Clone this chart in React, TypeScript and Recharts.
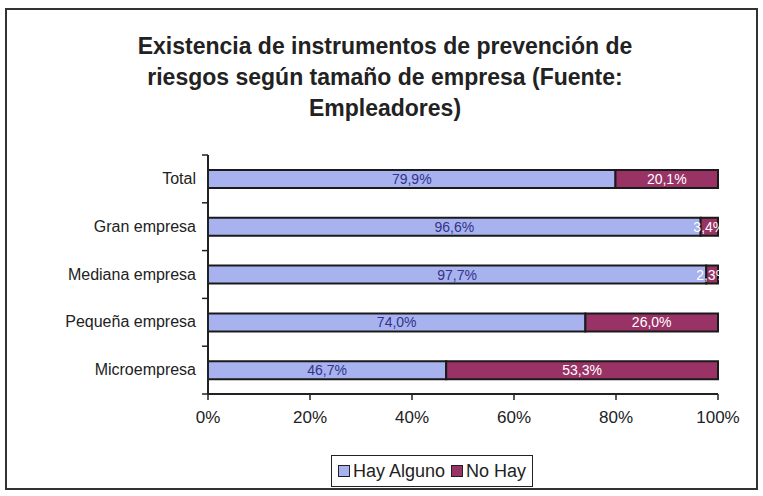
import { BarChart, Bar, XAxis, YAxis, LabelList } from "recharts";

const categories = ["Total", "Gran empresa", "Mediana empresa", "Pequeña empresa", "Microempresa"];
const hayAlguno = [79.9, 96.6, 97.7, 74.0, 46.7];
const noHay = [20.1, 3.4, 2.3, 26.0, 53.3];
const xTicks = [0, 20, 40, 60, 80, 100];

const data = categories.map((name, i) => ({ name, hay: hayAlguno[i], no: noHay[i] }));

const fmt = (v: number) => v.toFixed(1).replace(".", ",") + "%";
const font = "'Liberation Sans', Arial, sans-serif";

const PLOT_TOP = 155;
const PLOT_BOTTOM = 394;
const BAND = (PLOT_BOTTOM - PLOT_TOP) / categories.length;

const CategoryTick = (props: any) => {
	const { x, y, payload, index } = props;
	const top = y - BAND / 2;
	return (
		<g>
			<line x1={x + 2} x2={x + 8} y1={top} y2={top} stroke="#222" strokeWidth={1.5} />
			{index === categories.length - 1 && (
				<line x1={x + 2} x2={x + 8} y1={top + BAND} y2={top + BAND} stroke="#222" strokeWidth={1.5} />
			)}
			<text x={x - 4} y={y} dy={5} textAnchor="end" fill="#222" fontSize={16} fontFamily={font}>
				{payload.value}
			</text>
		</g>
	);
};

export default function App() {
	return (
		<div style={{ position: "absolute", left: 0, top: 0, width: 763, height: 496, background: "#fff", fontFamily: font }}>
			<div
				style={{
					position: "absolute",
					left: 5,
					top: 8,
					width: 749,
					height: 478,
					border: "2px solid #333"
				}}
			/>
			<div
				style={{
					position: "absolute",
					left: 0,
					top: 31,
					width: 770,
					textAlign: "center",
					fontSize: 23,
					fontWeight: "bold",
					lineHeight: "31px",
					color: "#222"
				}}>
				Existencia de instrumentos de prevención de
				<br />
				riesgos según tamaño de empresa (Fuente:
				<br />
				Empleadores)
			</div>
			<div style={{ position: "absolute", left: 0, top: 0 }}>
				<BarChart
					width={763}
					height={496}
					layout="vertical"
					data={data}
					barSize={18}
					margin={{ top: PLOT_TOP, right: 45, bottom: 496 - PLOT_BOTTOM - 30, left: 8 }}>
					<XAxis
						type="number"
						domain={[0, 100]}
						ticks={xTicks}
						tickFormatter={(v: number) => v + "%"}
						height={30}
						axisLine={{ stroke: "#222", strokeWidth: 2 }}
						tickLine={{ stroke: "#222", strokeWidth: 1.5 }}
						tickSize={6}
						tickMargin={11}
						tick={{ fill: "#222", fontSize: 17, fontFamily: font }}
					/>
					<YAxis
						type="category"
						dataKey="name"
						width={200}
						axisLine={{ stroke: "#222", strokeWidth: 2 }}
						tickLine={false}
						tick={<CategoryTick />}
					/>
					<Bar dataKey="hay" stackId="a" fill="#A7B2EE" stroke="#1a1a1a" strokeWidth={2} isAnimationActive={false}>
						<LabelList dataKey="hay" position="center" formatter={fmt} fill="#33338a" fontSize={14} fontFamily={font} />
					</Bar>
					<Bar dataKey="no" stackId="a" fill="#993366" stroke="#1a1a1a" strokeWidth={2} isAnimationActive={false}>
						<LabelList dataKey="no" position="center" formatter={fmt} fill="#fff" fontSize={14} fontFamily={font} />
					</Bar>
				</BarChart>
			</div>
			<div
				style={{
					position: "absolute",
					left: 331,
					top: 455,
					height: 30,
					padding: "0 6px",
					border: "1.5px solid #222",
					display: "flex",
					alignItems: "center",
					gap: 6,
					fontSize: 18,
					color: "#222"
				}}>
				<span style={{ display: "flex", alignItems: "center", gap: 3 }}>
					<span style={{ width: 10, height: 10, background: "#A7B2EE", border: "1.5px solid #222" }} />
					Hay Alguno
				</span>
				<span style={{ display: "flex", alignItems: "center", gap: 3 }}>
					<span style={{ width: 10, height: 10, background: "#993366", border: "1.5px solid #222" }} />
					No Hay
				</span>
			</div>
		</div>
	);
}
